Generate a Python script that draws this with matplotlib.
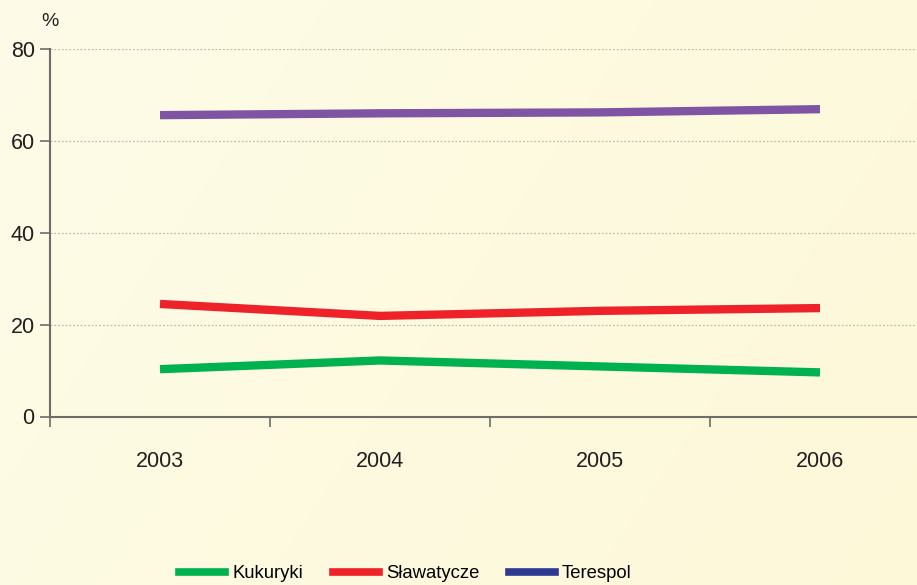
import numpy as np
import matplotlib.pyplot as plt
from matplotlib.lines import Line2D

plt.rcParams['font.family'] = ['Liberation Sans', 'DejaVu Sans']

years = ['2003', '2004', '2005', '2006']
kukuryki = [10.3, 12.2, 10.9, 9.6]
slawatycze = [24.5, 21.9, 23.0, 23.6]
terespol = [65.6, 66.0, 66.2, 66.9]

fig = plt.figure(figsize=(9.17, 5.85), dpi=100)

# background gradient
bg = fig.add_axes([0, 0, 1, 1], zorder=-10)
xx, yy = np.meshgrid(np.linspace(0, 1, 200), np.linspace(0, 1, 200))
t = np.clip(xx * 0.7 + yy * 0.3, 0, 1)
c0 = np.array([253, 252, 232]) / 255
c1 = np.array([254, 248, 216]) / 255
img = c0[None, None, :] * (1 - t[..., None]) + c1[None, None, :] * t[..., None]
bg.imshow(img, aspect='auto', extent=[0, 1, 0, 1], origin='upper')
bg.axis('off')

ax = fig.add_axes([50 / 917, 1 - 416.5 / 585, 880 / 917, 367.5 / 585])
ax.patch.set_alpha(0)
x = np.arange(len(years))
ax.plot(x, kukuryki, color='#00b14f', lw=6, solid_capstyle='butt')
ax.plot(x, slawatycze, color='#ee2229', lw=6, solid_capstyle='butt')
ax.plot(x, terespol, color='#7f54a3', lw=6, solid_capstyle='butt')

ax.set_xlim(-0.5, 3.5)
ax.set_ylim(0, 80)
ax.set_yticks([0, 20, 40, 60, 80])
ax.set_xticks(x)
ax.set_xticklabels(years)
ax.set_xticks(np.arange(-0.5, 4, 1), minor=True)
ax.tick_params(axis='x', which='major', length=0, pad=25, labelsize=15.5, colors='#231f20')
ax.tick_params(axis='x', which='minor', length=7, width=1.2, color='#6d6d65')
ax.tick_params(axis='y', length=7, width=1.2, color='#6d6d65', labelsize=15.5, labelcolor='#231f20', pad=4)
ax.grid(axis='y', color='#bdbdb0', linestyle=(0, (1.5, 1.5)), lw=0.9)
for s in ['top', 'right']:
    ax.spines[s].set_visible(False)
for s in ['left', 'bottom']:
    ax.spines[s].set_color('#6d6d65')
    ax.spines[s].set_linewidth(1.5)
ax.text(-0.5, 86, '%', fontsize=14, color='#231f20', ha='center', va='center')

handles = [Line2D([], [], color='#00b14f', lw=5.5),
           Line2D([], [], color='#ee2229', lw=5.5),
           Line2D([], [], color='#2e3a92', lw=5.5)]
fig.legend(handles, ['Kukuryki', 'Sławatycze', 'Terespol'], loc='center',
           bbox_to_anchor=(405.5 / 917, 1 - 574 / 585), ncol=3, frameon=False, fontsize=13.3,
           handlelength=2.5, handletextpad=0.38, columnspacing=1.6)

fig.savefig('out.png', dpi=100)
